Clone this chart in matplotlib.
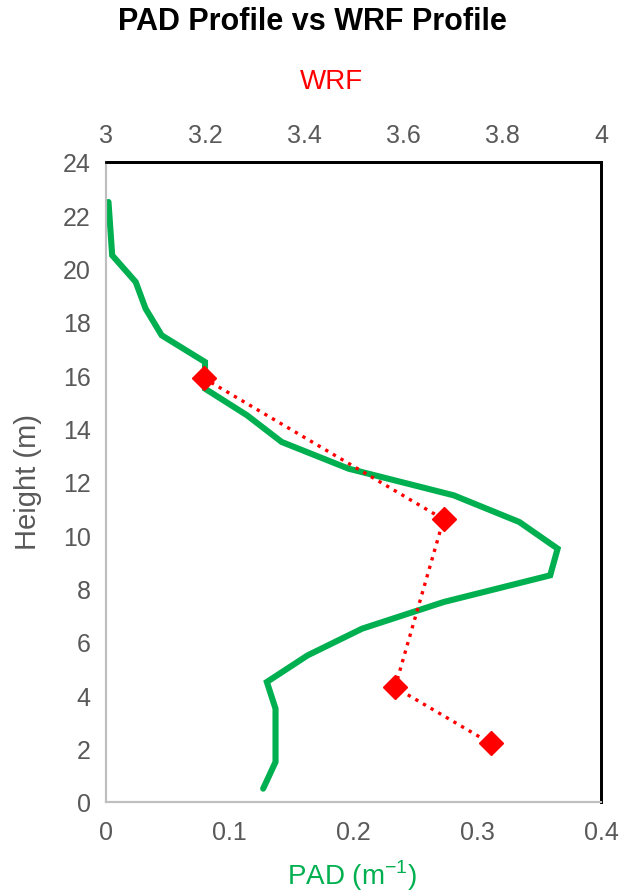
import matplotlib
matplotlib.use("Agg")
import matplotlib.pyplot as plt

plt.rcParams['font.family'] = ['Liberation Sans', 'DejaVu Sans']

# PAD profile (bottom axis)
pad_height = [0.5, 1.5, 2.5, 3.5, 4.5, 5.5, 6.5, 7.5, 8.5, 9.5, 10.5, 11.5,
              12.5, 13.5, 14.5, 15.5, 16.5, 17.5, 18.5, 19.5, 20.5, 22.5]
pad_value = [0.127, 0.137, 0.137, 0.137, 0.130, 0.163, 0.207, 0.273, 0.359, 0.365,
             0.334, 0.281, 0.196, 0.142, 0.114, 0.080, 0.080, 0.045, 0.032, 0.024,
             0.005, 0.002]

# WRF profile (top axis)
wrf_height = [15.9, 10.6, 4.3, 2.2]
wrf_value = [3.197, 3.682, 3.584, 3.777]

green = '#00B050'
red = '#FF0000'
gray = '#595959'

fig = plt.figure(figsize=(6.21, 8.95), dpi=100)
ax = fig.add_axes([0.1707, 0.1028, 0.797, 0.7151])

ax.plot(pad_value, pad_height, color=green, lw=4.4, solid_capstyle='round',
        solid_joinstyle='miter', zorder=2)
ax.set_xlim(0, 0.4)
ax.set_ylim(0, 24)
ax.set_xticks([0, 0.1, 0.2, 0.3, 0.4])
ax.set_xticklabels(['0', '0.1', '0.2', '0.3', '0.4'])
ax.set_yticks(range(0, 25, 2))
ax.tick_params(length=0, labelsize=18, labelcolor=gray)
ax.tick_params(axis='x', pad=13)
ax.tick_params(axis='y', pad=11)

ax2 = ax.twiny()
ax2.plot(wrf_value, wrf_height, color=red, ls=':', lw=2.4, marker='D',
         markersize=12, zorder=3)
ax2.set_xlim(3, 4)
ax2.set_xticks([3, 3.2, 3.4, 3.6, 3.8, 4])
ax2.set_xticklabels(['3', '3.2', '3.4', '3.6', '3.8', '4'])
ax2.tick_params(length=0, labelsize=18, labelcolor=gray, pad=11)

for a in (ax, ax2):
    a.spines['left'].set_color('#BFBFBF')
    a.spines['bottom'].set_color('#BFBFBF')
    a.spines['left'].set_linewidth(1.5)
    a.spines['bottom'].set_linewidth(1.5)
    a.spines['top'].set_color('black')
    a.spines['right'].set_color('black')
    a.spines['top'].set_linewidth(2)
    a.spines['right'].set_linewidth(2)

# axis titles placed like the original
fig.text(331 / 621, 1 - 82 / 895, 'WRF', color=red, fontsize=20,
         ha='center', va='center')
fig.text(352 / 621, 1 - 876 / 895, 'PAD (m$^{\\mathregular{-1}}$)', color=green,
         fontsize=20, ha='center', va='center')
fig.text(28 / 621, 1 - 482 / 895, 'Height (m)', color=gray, fontsize=21,
         rotation=90, ha='center', va='center')

fig.text(0.503, 0.975, 'PAD Profile vs WRF Profile', ha='center', va='center',
         fontsize=22, fontweight='bold')

fig.savefig('out.png', dpi=100)
